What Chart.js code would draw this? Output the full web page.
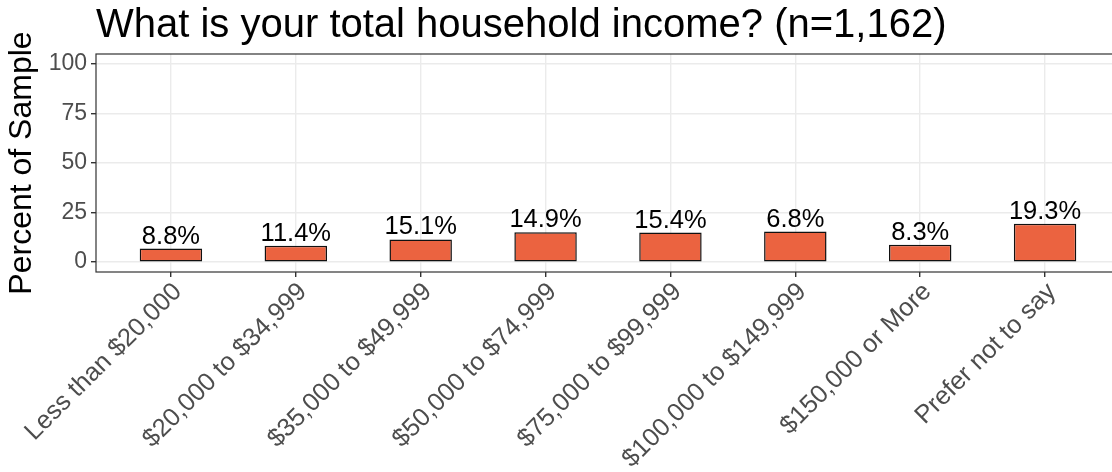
<!DOCTYPE html>
<html>
<head>
<meta charset="utf-8">
<script src="https://cdn.jsdelivr.net/npm/chart.js@4.4.0/dist/chart.umd.min.js"></script>
<style>
  html, body { margin: 0; padding: 0; background: #fff; overflow: hidden; }
  canvas { display: block; }
</style>
</head>
<body>
<canvas id="chart" width="1125" height="472"></canvas>
<script>
const categories = [
    'Less than $20,000',
    '$20,000 to $34,999',
    '$35,000 to $49,999',
    '$50,000 to $74,999',
    '$75,000 to $99,999',
    '$100,000 to $149,999',
    '$150,000 or More',
    'Prefer not to say'
];
// bar heights as drawn, and the text printed above each bar
const values = [6.8, 8.3, 11.4, 15.1, 14.9, 15.4, 8.8, 19.3];
const valueLabels = ['8.8%', '11.4%', '15.1%', '14.9%', '15.4%', '6.8%', '8.3%', '19.3%'];
const yTicks = [0, 25, 50, 75, 100];
const yMinorTicks = [12.5, 37.5, 62.5, 87.5];

const fontFamily = '"Liberation Sans", Arial, Helvetica, sans-serif';

// grey20 rectangle round the panel, like theme_bw
const panelBorder = {
    id: 'panelBorder',
    afterDatasetsDraw(chart) {
        const a = chart.chartArea;
        const ctx = chart.ctx;
        ctx.save();
        ctx.strokeStyle = '#333333';
        ctx.lineWidth = 1.2;
        ctx.strokeRect(a.left, a.top, a.right - a.left, a.bottom - a.top);
        ctx.restore();
    }
};

const barLabels = {
    id: 'barLabels',
    afterDatasetsDraw(chart) {
        const ctx = chart.ctx;
        const meta = chart.getDatasetMeta(0);
        ctx.save();
        ctx.font = '25.5px ' + fontFamily;
        ctx.fillStyle = '#000';
        ctx.textAlign = 'center';
        ctx.textBaseline = 'alphabetic';
        meta.data.forEach((bar, i) => {
            ctx.fillText(valueLabels[i], bar.x, bar.y - 5);
        });
        ctx.restore();
    }
};

const isMajor = v => yTicks.includes(v);

new Chart(document.getElementById('chart').getContext('2d'), {
    type: 'bar',
    data: {
        datasets: [{
            data: values.map((v, i) => ({ x: i + 1, y: v })),
            backgroundColor: '#EB6340',
            borderColor: '#111111',
            borderWidth: 1.5,
            borderSkipped: false,
            barPercentage: 0.5,
            categoryPercentage: 1
        }]
    },
    options: {
        responsive: false,
        animation: false,
        devicePixelRatio: 1,
        layout: { padding: { left: 0, right: 5, top: 0, bottom: 0 } },
        plugins: {
            legend: { display: false },
            tooltip: { enabled: false },
            title: {
                display: true,
                text: 'What is your total household income? (n=1,162)',
                align: 'start',
                fullSize: false,
                color: '#000',
                font: { family: fontFamily, size: 40, weight: 'normal' },
                padding: { top: 2, bottom: 4 }
            }
        },
        scales: {
            x: {
                type: 'linear',
                min: 0.4,
                max: 8.6,
                offset: false,
                afterBuildTicks: scale => {
                    scale.ticks = categories.map((c, i) => ({ value: i + 1 }));
                },
                afterFit: scale => { scale.height = 200; },
                border: { display: false },
                grid: {
                    offset: false,
                    color: '#ebebeb',
                    lineWidth: 1.4,
                    tickColor: '#333333',
                    tickLength: 5
                },
                ticks: {
                    autoSkip: false,
                    maxRotation: 45,
                    minRotation: 45,
                    padding: 0,
                    labelOffset: 7,
                    color: '#4d4d4d',
                    font: { family: fontFamily, size: 25.5 },
                    callback: (value, index) => categories[index]
                }
            },
            y: {
                min: -5,
                max: 105,
                afterBuildTicks: scale => {
                    scale.ticks = yTicks.concat(yMinorTicks).sort((a, b) => a - b).map(v => ({ value: v }));
                },
                afterFit: scale => { scale.width = 96; },
                border: { display: false },
                grid: {
                    color: '#ebebeb',
                    lineWidth: ctx => isMajor(ctx.tick.value) ? 1.4 : 0.7,
                    tickColor: ctx => isMajor(ctx.tick.value) ? '#333333' : 'rgba(0,0,0,0)',
                    tickLength: 5
                },
                ticks: {
                    padding: 4,
                    color: '#4d4d4d',
                    font: { family: fontFamily, size: 23 },
                    callback: value => isMajor(value) ? value : ''
                },
                title: {
                    display: true,
                    text: 'Percent of Sample',
                    color: '#000',
                    font: { family: fontFamily, size: 32 },
                    padding: { top: 3, bottom: 0 }
                }
            }
        }
    },
    plugins: [panelBorder, barLabels]
});
</script>
</body>
</html>
